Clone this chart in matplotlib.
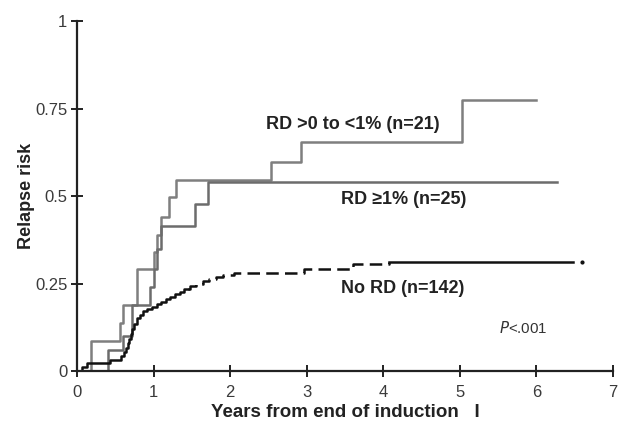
import matplotlib
matplotlib.use("Agg")
import matplotlib.pyplot as plt

plt.rcParams['font.family'] = ['Liberation Sans', 'DejaVu Sans']

# RD >0 to <1% (n=21): step times and cumulative relapse risk
rd_low_t = [0, 0.18, 0.56, 0.60, 0.78, 1.00, 1.05, 1.10, 1.20, 1.29, 2.53, 2.92, 5.03, 6.00]
rd_low_v = [0, 0.086, 0.138, 0.188, 0.292, 0.340, 0.390, 0.440, 0.497, 0.545, 0.596, 0.653, 0.774, 0.774]

# RD >=1% (n=25)
rd_high_t = [0, 0.41, 0.60, 0.72, 0.95, 1.01, 1.05, 1.10, 1.54, 1.71, 6.27]
rd_high_v = [0, 0.059, 0.100, 0.188, 0.240, 0.292, 0.350, 0.415, 0.478, 0.540, 0.540]

# No RD (n=142)
no_rd_t = [0, 0.07, 0.13, 0.43, 0.58, 0.61, 0.64, 0.66, 0.68, 0.70, 0.72, 0.75, 0.78,
           0.82, 0.86, 0.92, 0.98, 1.04, 1.10, 1.16, 1.22, 1.28, 1.34, 1.40, 1.48,
           1.56, 1.64, 1.72, 1.82, 1.90, 2.05, 2.96, 3.60, 4.07, 6.48]
no_rd_v = [0, 0.012, 0.022, 0.031, 0.043, 0.055, 0.067, 0.080, 0.092, 0.105, 0.120,
           0.135, 0.150, 0.160, 0.170, 0.177, 0.184, 0.190, 0.197, 0.205, 0.212,
           0.220, 0.227, 0.235, 0.242, 0.249, 0.256, 0.262, 0.268, 0.274, 0.281,
           0.292, 0.305, 0.312, 0.312]
no_rd_dash_start = 1.45
no_rd_dash_end = 4.07
no_rd_last_t = 6.60

x_ticks = [0, 1, 2, 3, 4, 5, 6, 7]
y_ticks = [0, 0.25, 0.5, 0.75, 1]
y_tick_labels = ['0', '0.25', '0.5', '0.75', '1']

fig = plt.figure(figsize=(6.19, 4.21), dpi=100)
ax = fig.add_axes([0.1244, 0.1188, 0.8660, 0.8312])

ax.step(rd_low_t, rd_low_v, where='post', color='#7f7f7f', lw=1.8)
ax.step(rd_high_t, rd_high_v, where='post', color='#6c6c6c', lw=1.8)

# No RD: split into solid / dashed / solid portions
def segment(ts, vs, a, b):
    st, sv = [], []
    for i, t in enumerate(ts):
        if a <= t <= b:
            st.append(t); sv.append(vs[i])
    prev = [v for t, v in zip(ts, vs) if t <= a][-1]
    if not st or st[0] > a:
        st.insert(0, a); sv.insert(0, prev)
    lastv = [v for t, v in zip(ts, vs) if t <= b][-1]
    if st[-1] < b:
        st.append(b); sv.append(lastv)
    return st, sv

s1 = segment(no_rd_t, no_rd_v, 0, no_rd_dash_start)
s2 = segment(no_rd_t, no_rd_v, no_rd_dash_start, no_rd_dash_end)
s3 = segment(no_rd_t, no_rd_v, no_rd_dash_end, no_rd_t[-1])
ax.step(*s1, where='post', color='#111111', lw=1.8)
ax.step(*s2, where='post', color='#111111', lw=1.8, linestyle=(0, (5, 2.5)))
ax.step(*s3, where='post', color='#111111', lw=1.8)
ax.plot([no_rd_last_t], [no_rd_v[-1]], marker='o', ms=2, color='#111111')

ax.set_xlim(0, 7)
ax.set_ylim(0, 1.0)
ax.set_xticks(x_ticks)
ax.set_yticks(y_ticks)
ax.set_yticklabels(y_tick_labels)
for s in ['top', 'right']:
    ax.spines[s].set_visible(False)
for s in ['left', 'bottom']:
    ax.spines[s].set_linewidth(1.6)
    ax.spines[s].set_color('#222222')
ax.tick_params(direction='inout', length=8, width=1.4, color='#222222',
               labelsize=12, labelcolor='#3a3a3a')
ax.tick_params(axis='x', pad=6)
ax.tick_params(axis='y', pad=3)

ax.set_xlabel('Years from end of induction   I', fontsize=13.5, fontweight='bold',
              color='#222222', labelpad=3)
ax.set_ylabel('Relapse risk', fontsize=13, fontweight='bold', color='#222222',
              labelpad=0)

ax.text(3.6, 0.703, 'RD >0 to <1% (n=21)', ha='center', va='center',
        fontsize=13, fontweight='bold', color='#222222')
ax.text(4.26, 0.489, 'RD \u22651% (n=25)', ha='center', va='center',
        fontsize=13, fontweight='bold', color='#222222')
ax.text(4.25, 0.236, 'No RD (n=142)', ha='center', va='center',
        fontsize=13, fontweight='bold', color='#222222')
ax.text(5.83, 0.122, r'$\it{P}$<.001', ha='center', va='center',
        fontsize=10.8, color='#333333')

fig.savefig('out.png', dpi=100)
